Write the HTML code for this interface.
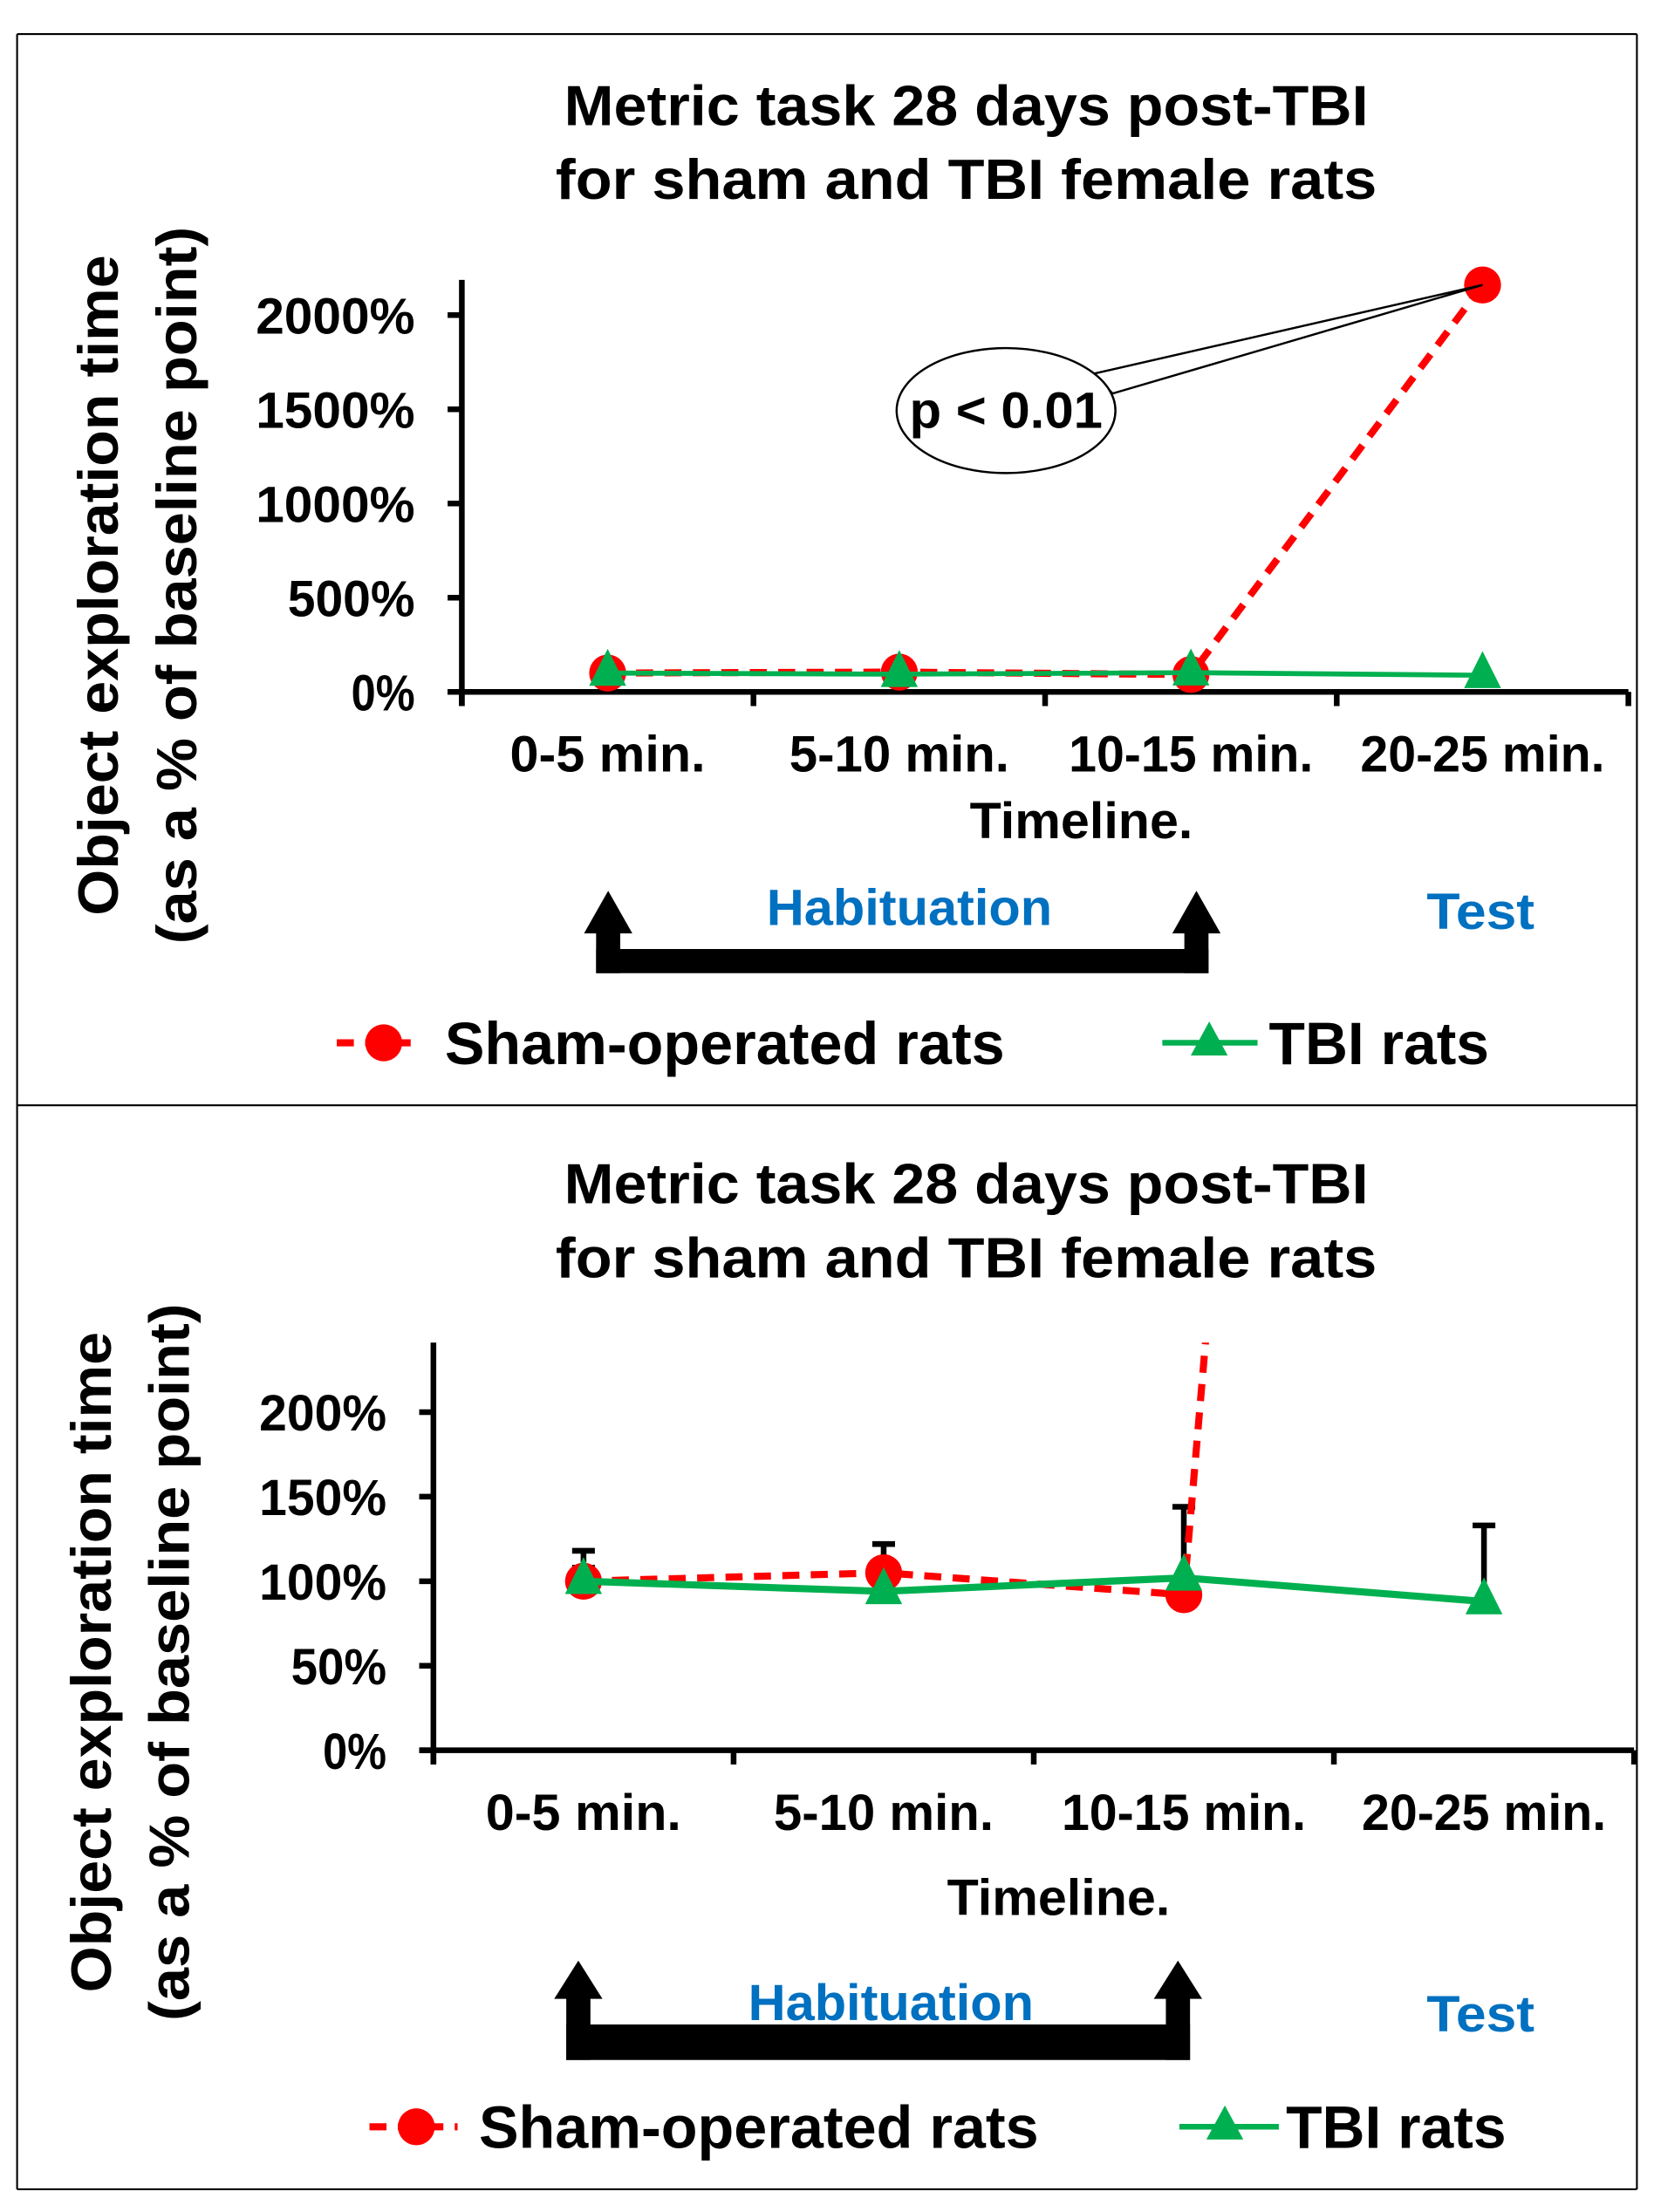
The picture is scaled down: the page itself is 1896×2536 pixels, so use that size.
<!DOCTYPE html>
<html><head><meta charset="utf-8">
<style>
html,body{margin:0;padding:0;background:#fff;}
svg{display:block;}
text{font-family:"Liberation Sans",Arial,sans-serif;font-weight:bold;}
</style></head>
<body>
<svg id="fig" width="1896" height="2536" viewBox="0 0 1164 1557" xmlns="http://www.w3.org/2000/svg">
  <defs>
    <clipPath id="clip2"><rect x="300" y="945" width="870" height="320"/></clipPath>
  </defs>
  <g fill="none" stroke="#000" stroke-width="1.3">
    <line x1="12" y1="24" x2="1152" y2="24"/>
    <line x1="12" y1="24" x2="12" y2="1541"/>
    <line x1="1152" y1="24" x2="1152" y2="1541"/>
    <line x1="12" y1="778" x2="1152" y2="778"/>
    <line x1="12" y1="1541" x2="1152" y2="1541"/>
  </g>
  <g id="p1"></g>
  <g id="p2"></g>
</svg>
<script>
const categories = ["0-5 min.", "5-10 min.", "10-15 min.", "20-25 min."];
const shamValues = [100, 105, 92, 2160];
const tbiValues = [100, 94, 102, 88];
const shamErr = [18, 17, 10, 0];
const tbiErr = [8, 6, 42, 45];
const ticks1 = [0, 500, 1000, 1500, 2000];
const ticks2 = [0, 50, 100, 150, 200];

const NS = "http://www.w3.org/2000/svg";
function mk(parent, tag, attrs, txt) {
  const e = document.createElementNS(NS, tag);
  for (const k in attrs) e.setAttribute(k, attrs[k]);
  if (txt !== undefined) e.textContent = txt;
  parent.appendChild(e);
  return e;
}
function fit(e, len) {
  e.setAttribute("textLength", len);
  e.setAttribute("lengthAdjust", "spacingAndGlyphs");
  return e;
}

function panel(g, cfg) {
  const y = v => cfg.y0 - (v / cfg.tickStep) * cfg.tickPx;
  const bandW = (cfg.xEnd - cfg.x0) / categories.length;
  const x = i => cfg.x0 + bandW * (i + 0.5);

  let t = fit(mk(g, "text", {x: cfg.titleX, y: cfg.titleY, "font-size": 40, "text-anchor": "middle"}, "Metric task 28 days post-TBI"), 566);
  
  
  t = fit(mk(g, "text", {x: cfg.titleX, y: cfg.titleY + 52, "font-size": 40, "text-anchor": "middle"}, "for sham and TBI female rats"), 578);
  
  

  const yt = mk(g, "g", {transform: `translate(${cfg.ylabX},${cfg.ylabY}) rotate(-90)`});
  
  
  fit(mk(yt, "text", {x: 0, y: 0, "font-size": 40, "text-anchor": "middle"}, "Object exploration time"), 465);
  fit(mk(yt, "text", {x: 0, y: 55, "font-size": 40, "text-anchor": "middle"}, "(as a % of baseline point)"), 505);

  const ax = mk(g, "g", {stroke: "#000", "stroke-width": 4});
  
  
  mk(ax, "line", {x1: cfg.x0, y1: cfg.yTop, x2: cfg.x0, y2: cfg.y0 + 10});
  mk(ax, "line", {x1: cfg.x0 - 10, y1: cfg.y0, x2: cfg.xEnd, y2: cfg.y0});
  for (let i = 0; i <= categories.length; i++) {
    const tx = cfg.x0 + bandW * i;
    mk(ax, "line", {x1: tx, y1: cfg.y0, x2: tx, y2: cfg.y0 + 10});
  }
  cfg.ticks.forEach(v => {
    mk(ax, "line", {x1: cfg.x0 - 10, y1: y(v), x2: cfg.x0, y2: y(v)});
    const s = v + "%";
    const l = fit(mk(g, "text", {x: cfg.x0 - 33, y: y(v) + 13, "font-size": 36, "text-anchor": "end"}, s), s.length * 22.4);
    
    
  });
  categories.forEach((c, i) => {
    const l = fit(mk(g, "text", {x: x(i), y: cfg.y0 + 56, "font-size": 36, "text-anchor": "middle"}, c), c.length * 17.2);
    
    
  });
  const xt = fit(mk(g, "text", {x: cfg.timeX, y: cfg.timeY, "font-size": 36, "text-anchor": "middle"}, "Timeline."), 157);
  
  

  const plot = mk(g, "g", cfg.clip ? {"clip-path": "url(#" + cfg.clip + ")"} : {});
  const eb = mk(plot, "g", {stroke: "#000", "stroke-width": 4});
  
  
  if (cfg.errors) {
    [[shamValues, shamErr], [tbiValues, tbiErr]].forEach(([vals, errs]) => {
      vals.forEach((v, i) => {
        if (!errs[i] || v > cfg.ticks[cfg.ticks.length - 1] * 1.2) return;
        mk(eb, "line", {x1: x(i), y1: y(v), x2: x(i), y2: y(v + errs[i])});
        mk(eb, "line", {x1: x(i) - 8, y1: y(v + errs[i]), x2: x(i) + 8, y2: y(v + errs[i])});
      });
    });
  }
  const shamPts = shamValues.map((v, i) => x(i) + "," + y(v)).join(" ");
  const sl = mk(plot, "polyline", {points: shamPts, fill: "none", stroke: "#ff0000", "stroke-width": 5, "stroke-dasharray": "12,8"});
  
  
  shamValues.forEach((v, i) => {
    const c = mk(plot, "circle", {cx: x(i), cy: y(v), r: 13, fill: "#ff0000"});
    
    
  });
  const tbiPts = tbiValues.map((v, i) => x(i) + "," + y(v)).join(" ");
  const tl = mk(plot, "polyline", {points: tbiPts, fill: "none", stroke: "#00b050", "stroke-width": cfg.tbiW});
  
  
  tbiValues.forEach((v, i) => {
    const px = x(i), py = y(v);
    const p = mk(plot, "polygon", {points: `${px},${py - 17} ${px - 13},${py + 9} ${px + 13},${py + 9}`, fill: "#00b050"});
    
    
  });

  const ar = mk(g, "g", {fill: "#000"});
  
  
  const a = cfg.arrow;
  [a.l, a.r].forEach(cx => {
    mk(ar, "rect", {x: cx - 8.5, y: a.headY, width: 17, height: a.barB - a.headY});
    mk(ar, "polygon", {points: `${cx},${a.tip} ${cx - 17},${a.headY + 2} ${cx + 17},${a.headY + 2}`});
  });
  mk(ar, "rect", {x: a.l - 8.5, y: a.barT, width: a.r - a.l + 17, height: a.barB - a.barT});
  let h = fit(mk(g, "text", {x: cfg.habX, y: cfg.habY, "font-size": 36, fill: "#0070c0", "text-anchor": "middle"}, "Habituation"), 201);
  
  
  h = fit(mk(g, "text", {x: 1042, y: cfg.testY, "font-size": 36, fill: "#0070c0", "text-anchor": "middle"}, "Test"), 76);
  
  

  const L = cfg.legend;
  const lg1 = mk(g, "g", {});
  
  
  mk(lg1, "line", {x1: L.s1, y1: L.y, x2: L.s2, y2: L.y, stroke: "#ff0000", "stroke-width": 5, "stroke-dasharray": "12,8"});
  mk(lg1, "circle", {cx: L.sc, cy: L.y, r: 13, fill: "#ff0000"});
  fit(mk(lg1, "text", {x: L.st, y: L.y + 15, "font-size": 42}, "Sham-operated rats"), 394);
  const lg2 = mk(g, "g", {});
  
  
  mk(lg2, "line", {x1: L.t1, y1: L.y, x2: L.t2, y2: L.y, stroke: "#00b050", "stroke-width": 4});
  mk(lg2, "polygon", {points: `${L.tc},${L.y - 15} ${L.tc - 13},${L.y + 9} ${L.tc + 13},${L.y + 9}`, fill: "#00b050"});
  fit(mk(lg2, "text", {x: L.tt, y: L.y + 15, "font-size": 42}, "TBI rats"), 155);
  return {x, y};
}

const p1 = panel(document.getElementById("p1"), {
  x0: 325, xEnd: 1146, y0: 487, yTop: 197, tickStep: 500, tickPx: 66.3, ticks: ticks1,
  titleX: 680, titleY: 88, ylabX: 83, ylabY: 412, timeX: 761, timeY: 590, tbiW: 3.5, errors: false,
  arrow: {l: 428, r: 842, tip: 627, headY: 655, barT: 668, barB: 685},
  habX: 640, habY: 651, testY: 654,
  legend: {y: 734, s1: 237, s2: 295, sc: 270, st: 313, t1: 818, t2: 885, tc: 851, tt: 893}
});
const p2 = panel(document.getElementById("p2"), {
  x0: 305, xEnd: 1150, y0: 1232, yTop: 945, tickStep: 50, tickPx: 59.5, ticks: ticks2,
  titleX: 680, titleY: 847, ylabX: 78, ylabY: 1170, timeX: 745, timeY: 1348, tbiW: 5, errors: true, clip: "clip2",
  arrow: {l: 407, r: 829, tip: 1380, headY: 1405, barT: 1425, barB: 1450},
  habX: 627, habY: 1422, testY: 1430,
  legend: {y: 1497, s1: 260, s2: 322, sc: 293, st: 337, t1: 830, t2: 900, tc: 862, tt: 905}
});

const g1 = document.getElementById("p1");
const co = mk(g1, "g", {});


const tipX = p1.x(3), tipY = p1.y(shamValues[3]);
mk(co, "polygon", {points: `770,263 ${tipX},${tipY} 783,277`, fill: "#fff", stroke: "#000", "stroke-width": 1.5});
mk(co, "ellipse", {cx: 708, cy: 289, rx: 77, ry: 44, fill: "#fff", stroke: "#000", "stroke-width": 1.5});
fit(mk(co, "text", {x: 708, y: 301, "font-size": 36, "text-anchor": "middle"}, "p < 0.01"), 136);
</script>
</body></html>
